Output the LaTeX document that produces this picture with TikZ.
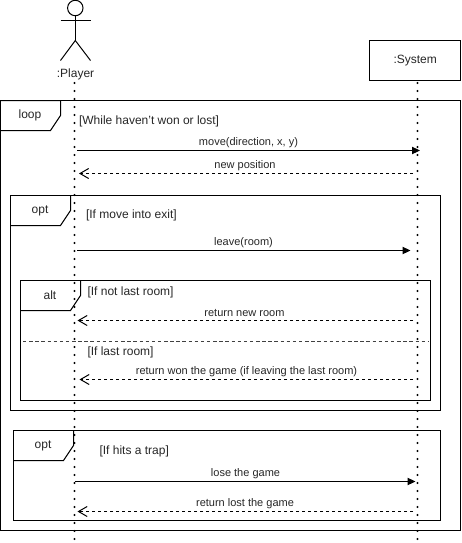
\documentclass[tikz,border=0pt]{standalone}
\usepackage{fontspec}
\setmainfont{Liberation Sans}
\usetikzlibrary{arrows.meta}
\newcommand{\fs}[1]{\fontsize{#1}{#1}\selectfont}
\tikzset{
  x=0.75pt,y=-0.75pt,
  every path/.style={line width=0.75pt},
  lifeline/.style={line width=1.6pt,line cap=round,dash pattern=on 0pt off 6pt},
  sync/.style={draw,-{Triangle[length=6pt,width=5.5pt]}},
  reply/.style={draw,dash pattern=on 2.25pt off 2.25pt,-{Straight Barb[length=6.5pt,width=7.5pt,line width=0.75pt]}},
  msg/.style={font=\fs{8.25},text=black!85,inner sep=0pt,anchor=center,yshift=-0.4pt},
  guard/.style={font=\fs{9},text=black!85,inner sep=0pt,anchor=west,yshift=-0.4pt},
  tag/.style={font=\fs{9},text=black!85,inner sep=0pt,anchor=center},
  frame/.style={draw=black,fill=none},
}
\begin{document}
\begin{tikzpicture}
\useasboundingbox (0,0) rectangle (461,543);
% actor
\node[draw,circle,minimum size=11.6pt,inner sep=0pt] (head) at (75.3,8) {};
\coordinate (hip) at (75.3,40.5);
\coordinate (lh) at (60.5,20.5);
\coordinate (rh) at (90.5,20.5);
\coordinate (lf) at (60.5,60.5);
\coordinate (rf) at (90.5,60.5);
\draw (head.south) -- (hip);
\draw (lh) -- (rh);
\draw (lf) -- (hip) -- (rf);
\node[tag,font=\fs{9}] (player) at (75.5,74.5) {:Player};
% system
\node[draw,minimum width=67.9pt,minimum height=30pt,inner sep=0pt,font=\fs{9},text=black!85] (system) at (415.2,60.5) {\raisebox{-0.7pt}{:System}};
% lifelines
\coordinate (pb) at (74.5,543);
\coordinate (pt) at (74.5,83);
\coordinate (st) at (417.5,83);
\coordinate (sb) at (417.5,543);
\draw[lifeline] (pt) -- (pb);
\draw[lifeline] (st) -- (sb);
% frames
\draw[frame] (0.5,100.5) rectangle (460.5,530.5);
\draw[frame] (0.5,100.5) -- (60.5,100.5) -- (60.5,115.5) -- (50.5,130.5) -- (0.5,130.5);
\node[tag] (tloop) at (30,115.5) {loop};
\draw[frame] (10.5,195.5) rectangle (440.5,410.5);
\draw[frame] (70.5,195.5) -- (70.5,210.5) -- (60.5,225.5) -- (10.5,225.5);
\node[tag] (topt) at (40,211) {opt};
\draw[frame] (20.5,280.5) rectangle (430.5,400.5);
\draw[frame] (80.5,280.5) -- (80.5,295.5) -- (70.5,310.5) -- (20.5,310.5);
\node[tag] (talt) at (50,295.5) {alt};
\draw[frame] (13.5,430.5) rectangle (440.5,520.5);
\draw[frame] (73.5,430.5) -- (73.5,445.5) -- (63.5,460.5) -- (13.5,460.5);
\node[tag] (topt2) at (43,446) {opt};
\coordinate (dl) at (23,341);
\coordinate (dr) at (428,341);
\draw[draw=black!75,dash pattern=on 2.6pt off 2pt] (dl) -- (dr);
% guards
\node[guard] (g1) at (78.5,120.5) {[While haven't won or lost]};
\node[guard] (g2) at (85.5,214.5) {[If move into exit]};
\node[guard] (g3) at (87,291.5) {[If not last room]};
\node[guard] (g4) at (87,351.5) {[If last room]};
\node[guard] (g5) at (99,450.5) {[If hits a trap]};
% messages
\coordinate (a1) at (77,150.5); \coordinate (b1) at (420,150.5);
\coordinate (a2) at (79,173.5); \coordinate (b2) at (413,173.5);
\coordinate (a3) at (77,250.5); \coordinate (b3) at (410.5,250.5);
\coordinate (a4) at (77.5,320.5); \coordinate (b4) at (413,320.5);
\coordinate (a5) at (79.5,379.5); \coordinate (b5) at (413,379.5);
\coordinate (a6) at (75,481.5); \coordinate (b6) at (415.5,481.5);
\coordinate (a7) at (77.5,511.5); \coordinate (b7) at (413,511.5);
\path[sync] (a1) -- (b1);
\path[reply] (b2) -- (a2);
\path[sync] (a3) -- (b3);
\path[reply] (b4) -- (a4);
\path[reply] (b5) -- (a5);
\path[sync] (a6) -- (b6);
\path[reply] (b7) -- (a7);
\node[msg] (m1) at (248.5,142) {move(direction, x, y)};
\node[msg] (m2) at (245,165) {new position};
\node[msg] (m3) at (243.5,242) {leave(room)};
\node[msg] (m4) at (244.5,312) {return new room};
\node[msg] (m5) at (246.5,371) {return won the game (if leaving the last room)};
\node[msg] (m6) at (245.5,473) {lose the game};
\node[msg] (m7) at (245,503) {return lost the game};
\end{tikzpicture}
\end{document}
